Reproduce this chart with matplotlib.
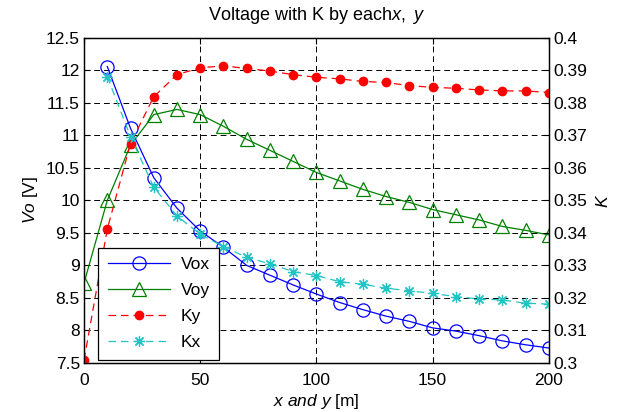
import matplotlib
matplotlib.use("Agg")
import matplotlib.pyplot as plt
from matplotlib.ticker import FuncFormatter

plt.rcParams['font.family'] = ['Liberation Sans', 'DejaVu Sans']
plt.rcParams['mathtext.fontset'] = 'custom'
plt.rcParams['mathtext.rm'] = 'Liberation Sans'
plt.rcParams['mathtext.it'] = 'Liberation Sans:italic'

x_all = [0, 10, 20, 30, 40, 50, 60, 70, 80, 90, 100, 110, 120, 130, 140, 150, 160, 170, 180, 190, 200]
x_vox = x_all[1:]
vox = [12.06, 11.11, 10.35, 9.88, 9.53, 9.28, 9.00, 8.85, 8.70, 8.56, 8.43, 8.32, 8.22, 8.14, 8.04,
       7.99, 7.92, 7.84, 7.78, 7.73]
voy = [8.73, 10.00, 10.85, 11.32, 11.40, 11.32, 11.14, 10.94, 10.77, 10.60, 10.43, 10.30, 10.17,
       10.06, 9.97, 9.86, 9.78, 9.70, 9.60, 9.54, 9.47]
ky = [0.3009, 0.3412, 0.3675, 0.3819, 0.3887, 0.3908, 0.3914, 0.3906, 0.3898, 0.3887, 0.3879,
      0.3874, 0.3866, 0.3863, 0.3853, 0.3848, 0.3845, 0.3840, 0.3837, 0.3837, 0.3832]
x_kx = x_all[1:]
kx = [0.3881, 0.3696, 0.3541, 0.3452, 0.3396, 0.3358, 0.3325, 0.3305, 0.3281, 0.3269, 0.3250,
      0.3242, 0.3230, 0.3222, 0.3214, 0.3204, 0.3197, 0.3194, 0.3184, 0.3181]

left_ticks = [7.5, 8, 8.5, 9, 9.5, 10, 10.5, 11, 11.5, 12, 12.5]
right_ticks = [0.3, 0.31, 0.32, 0.33, 0.34, 0.35, 0.36, 0.37, 0.38, 0.39, 0.4]
x_ticks = [0, 50, 100, 150, 200]

cyan = '#22c4c4'

fig = plt.figure(figsize=(6.18, 4.12), dpi=100)
ax = fig.add_axes([0.136, 0.119, 0.752, 0.789])
ax2 = ax.twinx()

l1, = ax.plot(x_vox, vox, '-', color='blue', lw=0.9, marker='o', ms=9.5, mfc='none', mec='blue', mew=0.9)
l2, = ax.plot(x_all, voy, '-', color='green', lw=0.9, marker='^', ms=10, mfc='none', mec='green', mew=0.9)
l3, = ax2.plot(x_all, ky, '--', color='red', lw=0.9, dashes=(6, 4), marker='o', ms=6, mfc='red', mec='red')
l4, = ax2.plot(x_kx, kx, '--', color=cyan, lw=0.9, dashes=(6, 4), marker=(8, 2, 0), ms=8,
               mfc='none', mec=cyan, mew=0.9)

ax.set_xlim(0, 200)
ax.set_ylim(7.5, 12.5)
ax2.set_ylim(0.3, 0.4)
ax.set_xticks(x_ticks)
ax.set_yticks(left_ticks)
ax2.set_yticks(right_ticks)
ax.yaxis.set_major_formatter(FuncFormatter(lambda v, p: '%g' % v))
ax2.yaxis.set_major_formatter(FuncFormatter(lambda v, p: '%g' % v))

ax.grid(True, color='black', linestyle=(0, (6, 4)), lw=0.7)
for a in (ax, ax2):
    a.tick_params(direction='in', labelsize=12.5, length=4, width=0.8, colors='black', pad=3)
    for s in a.spines.values():
        s.set_linewidth(0.9)
ax.tick_params(axis='x', top=True, pad=7)

ax.set_title('Voltage with K by each$\\mathit{x,\\ y}$', fontsize=13, pad=13)
ax.set_xlabel('$\\mathit{x\\ and\\ y}$ [m]', fontsize=12.5, labelpad=3)
ax.set_ylabel('$\\mathit{Vo}$ [V]', fontsize=12.5, labelpad=4)
ax2.set_ylabel('$\\mathit{K}$', fontsize=12.5, rotation=90, labelpad=6)

leg = ax2.legend([l1, l2, l3, l4], ['Vox', 'Voy', 'Ky', 'Kx'], loc='lower left',
                 bbox_to_anchor=(0.03, 0.01), borderaxespad=0, fontsize=12.5, fancybox=False,
                 framealpha=1, edgecolor='black', handlelength=3.6, borderpad=0.55,
                 labelspacing=0.62, handletextpad=0.6)
leg.get_frame().set_linewidth(0.9)

fig.savefig('out.png', dpi=100)
